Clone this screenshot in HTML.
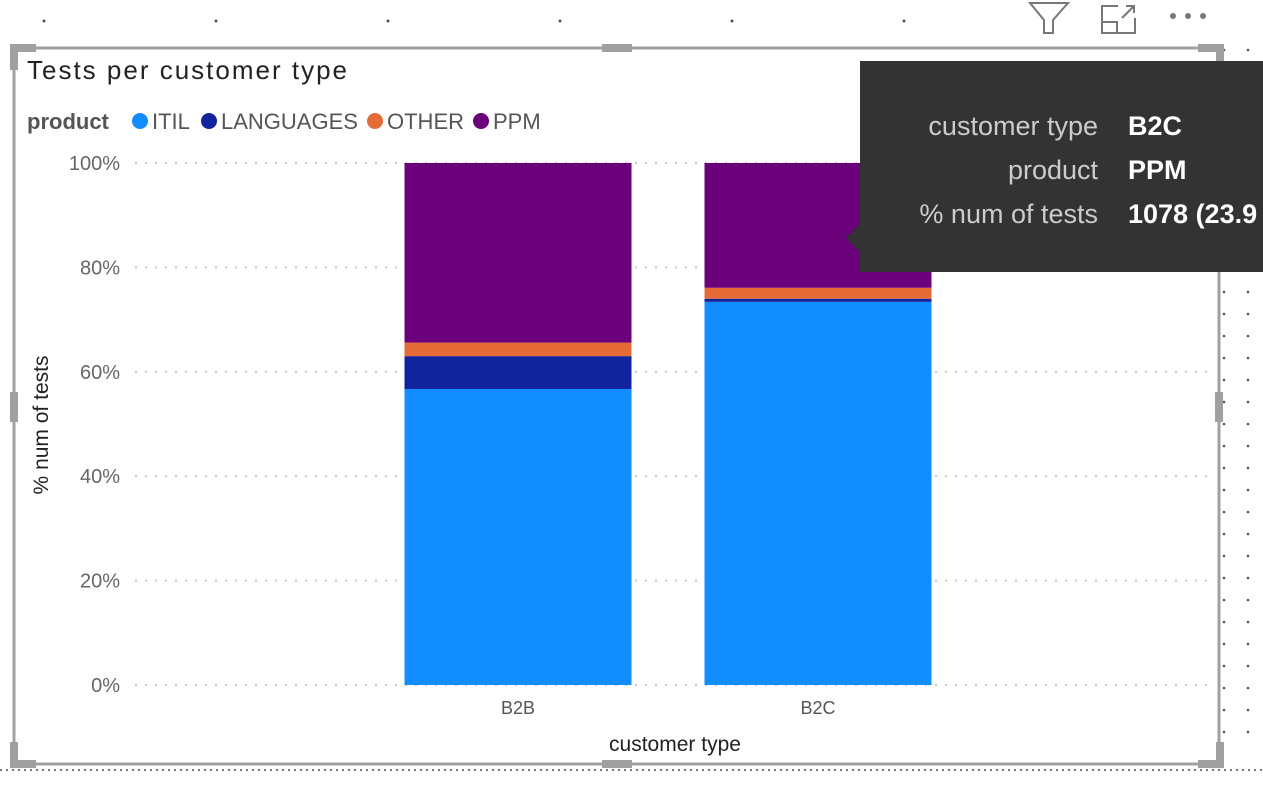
<!DOCTYPE html>
<html><head><meta charset="utf-8"><style>
body{margin:0;width:1263px;height:804px;background:#fff;overflow:hidden;font-family:"Liberation Sans",sans-serif;position:relative}
.abs{position:absolute}
</style></head><body>
<svg class="abs" style="left:0;top:0" width="1263" height="804">
<g id="dots"></g>
<rect x="14" y="48" width="1205" height="716" fill="none" stroke="#a0a0a0" stroke-width="3"/>
<g fill="#a0a0a0">
<rect x="10" y="44" width="26" height="8"/><rect x="10" y="44" width="8" height="26"/>
<rect x="602" y="44" width="30" height="8"/>
<rect x="1198" y="44" width="26" height="8"/><rect x="1216" y="44" width="8" height="26"/>
<rect x="10" y="392" width="8" height="30"/><rect x="1215" y="392" width="8" height="30"/>
<rect x="10" y="742" width="8" height="26"/><rect x="10" y="760" width="26" height="8"/>
<rect x="602" y="760" width="30" height="8"/>
<rect x="1216" y="742" width="8" height="26"/><rect x="1198" y="760" width="26" height="8"/>
</g>
<line x1="0" y1="770" x2="1263" y2="770" stroke="#777" stroke-width="2" stroke-dasharray="2,4"/>
<g fill="none" stroke="#777" stroke-width="2"><path d="M1030 3 L1068 3 L1053 20 L1053 33 L1044 33 L1044 20 Z"/></g>
<g fill="none" stroke="#777" stroke-width="2"><path d="M1118 6 L1102 6 L1102 33 L1135 33 L1135 18"/><path d="M1102 22 L1117 22 L1117 33"/><path d="M1122 18 L1134 6 M1126 6 L1134 6 L1134 13"/></g>
<g fill="#777"><circle cx="1173" cy="16" r="3"/><circle cx="1188" cy="16" r="3"/><circle cx="1203" cy="16" r="3"/></g>
<text x="27" y="79" font-size="26" letter-spacing="2" fill="#222">Tests per customer type</text>
<g id="legend"></g>
<g id="grid"></g><g id="bars"></g><g id="axes"></g>
<text transform="translate(48,425) rotate(-90)" text-anchor="middle" font-size="21" fill="#222">% num of tests</text>
<text x="675" y="751" text-anchor="middle" font-size="21" fill="#222">customer type</text>
<g>
<rect x="860" y="61" width="403" height="211" fill="#333"/>
<path d="M860 224 L846 238 L860 252 Z" fill="#333"/>
<g font-size="27" fill="#ccc" text-anchor="end"><text x="1098" y="135">customer type</text><text x="1098" y="179">product</text><text x="1098" y="223">% num of tests</text></g>
<g font-size="27" fill="#fff" font-weight="bold"><text x="1128" y="135">B2C</text><text x="1128" y="179">PPM</text><text x="1128" y="223">1078 (23.9</text></g>
</g>
</svg>
<script>
const categories=["B2B","B2C"];
const products=["ITIL","LANGUAGES","OTHER","PPM"];
const colors=["#118dff","#12239e","#e66c37","#6b007b"];
const itil=[56.7,73.4];
const languages=[6.3,0.6];
const other=[2.6,2.1];
const ppm=[34.4,23.9];
const yTicks=[0,20,40,60,80,100];
const NS="http://www.w3.org/2000/svg";
const y0=685,y1=163,xL=135,xR=1210;
const y=v=>y0-(y0-y1)*v/100;
const bandW=300,bandStart=368,barW=227;
const xc=i=>bandStart+bandW*i+bandW/2;
function mk(t,a,p){const e=document.createElementNS(NS,t);for(const k in a)e.setAttribute(k,a[k]);p.appendChild(e);return e;}
const dots=document.getElementById('dots');
for(let x=44;x<1000;x+=172){mk('circle',{cx:x,cy:21,r:1.5,fill:'#555'},dots);}
for(let yy=50;yy<750;yy+=22){mk('circle',{cx:1248,cy:yy,r:1.3,fill:'#555'},dots);mk('circle',{cx:1224,cy:yy,r:1.3,fill:'#555'},dots);}
const lg=document.getElementById('legend');
const t0=mk('text',{x:27,y:129,'font-size':22,'font-weight':'bold',fill:'#555'},lg);t0.textContent='product';
const lx=[140,209,375,481];
products.forEach((p,i)=>{
 const c=mk('circle',{cx:lx[i],cy:121,r:8,fill:colors[i]},lg);
 
 
 const t=mk('text',{x:lx[i]+12,y:129,'font-size':22,fill:'#555'},lg);t.textContent=p;
 
 
});
const g=document.getElementById('grid'),ax=document.getElementById('axes');
yTicks.forEach(v=>{
 const l=mk('line',{x1:xL,x2:xR,y1:y(v),y2:y(v),stroke:'#c8c8c8','stroke-width':2,'stroke-dasharray':'2,8'},g);
 
 
 const t=mk('text',{x:120,y:y(v)+7,'text-anchor':'end','font-size':20,fill:'#666'},ax);t.textContent=v+'%';
 
 
});
const series=[itil,languages,other,ppm];
const bg=document.getElementById('bars');
categories.forEach((c,i)=>{
 let acc=0;
 series.forEach((s,k)=>{
  const top=y(acc+s[i]),bot=y(acc);acc+=s[i];
  const r=mk('rect',{x:xc(i)-barW/2,y:top,width:barW,height:bot-top,fill:colors[k]},bg);
  
  
 });
 const t=mk('text',{x:xc(i),y:714,'text-anchor':'middle','font-size':18,fill:'#555'},ax);t.textContent=c;
 
 
});
</script>
</body></html>
